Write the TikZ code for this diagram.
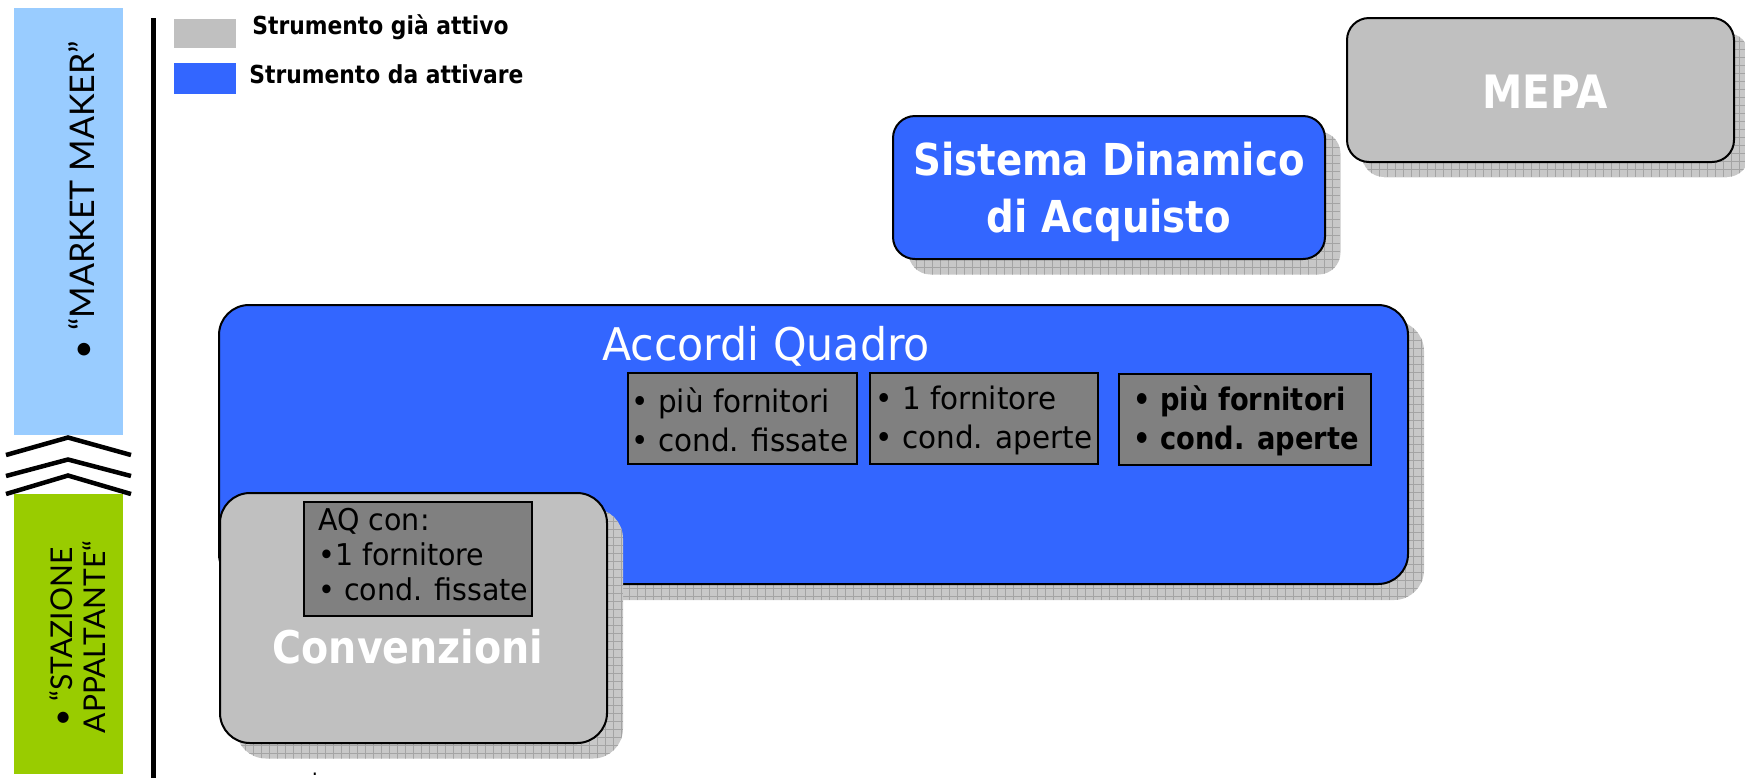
\documentclass[tikz,border=0pt]{standalone}
\usepackage{fontspec}
\setmainfont{DejaVu Sans}[FakeStretch=0.95, BoldFeatures={FakeStretch=0.88}]
\newfontfamily\gill{Lato}
\newdimen\pxu \pxu=0.5pt
\definecolor{lblue}{HTML}{99CCFF}
\definecolor{lgreen}{HTML}{99CC00}
\definecolor{boxblue}{HTML}{3366FF}
\definecolor{boxgray}{HTML}{C0C0C0}
\definecolor{darkgray}{HTML}{808080}
\definecolor{shadowgray}{HTML}{C8C8C8}
\definecolor{gridgray}{HTML}{A4A4A4}
\tikzset{
  shadowbox/.style={draw=none, fill=shadowgray, inner sep=0pt,
    path picture={\draw[gridgray, line width=0.35pt, step=4pt]
      (path picture bounding box.south west) grid (path picture bounding box.north east);}},
  mainbox/.style={draw=black, line width=1pt, inner sep=0pt},
  subbox/.style={draw=black, line width=0.75pt, fill=darkgray, inner sep=0pt},
  subtext/.style={anchor=west, align=left, inner sep=0pt, font=\fontsize{15.5}{19.5}\selectfont},
  legbox/.style={draw=none, inner sep=0pt, minimum width=62\pxu},
  legtext/.style={anchor=west, inner sep=0pt, font=\bfseries\fontsize{12.4}{14}\selectfont},
  chevron/.style={line width=2.25pt, miter limit=10},
}
\begin{document}
\begin{tikzpicture}[x=0.5pt, y=-0.5pt]
\useasboundingbox (0,0) rectangle (1745,778);
\clip (0,0) rectangle (1745,778);
\fill[white] (0,0) rectangle (1745,778);

% left column
\node[fill=lblue, inner sep=0pt, minimum width=109\pxu, minimum height=427\pxu] (mm) at (68.5,221.5) {};
\node[fill=lgreen, inner sep=0pt, minimum width=109\pxu, minimum height=280\pxu] (sa) at (68.5,634) {};
\node[rotate=90, inner sep=0pt, font=\gill\fontsize{17}{20}\selectfont] (mmt) at (82,200) {• “MARKET MAKER”};
\node[rotate=90, inner sep=0pt, align=center, font=\gill\fontsize{15}{16.5}\selectfont] (sat) at (78,637) {• “STAZIONE\\APPALTANTE“};
\draw[chevron] (6,455) -- (68,437.5) -- (131,455);
\draw[chevron] (6,476) -- (68,459.5) -- (131,476);
\draw[chevron] (6,494) -- (68,475.5) -- (131,494);

% vertical separator
\draw[line width=2.5pt] (153,18) -- (153,778);

% legend
\node[legbox, fill=boxgray, minimum height=29\pxu] (leg1) at (205,33.5) {};
\node[legtext] (leg1t) at (252,27) {Strumento già attivo};
\node[legbox, fill=boxblue, minimum height=31\pxu] (leg2) at (205,78.5) {};
\node[legtext] (leg2t) at (249,74) {Strumento da attivare};

% MEPA
\node[shadowbox, rounded corners=22\pxu, minimum width=387\pxu, minimum height=144\pxu] (mepash) at (1555.5,105) {};
\node[mainbox, fill=boxgray, rounded corners=22\pxu, minimum width=387\pxu, minimum height=144\pxu] (mepa) at (1540.5,90) {};
\node[text=white, font=\bfseries\fontsize{23}{28}\selectfont] (mepat) at (1545,92) {MEPA};

% Sistema Dinamico di Acquisto
\node[shadowbox, rounded corners=22\pxu, minimum width=432\pxu, minimum height=143\pxu] (sdash) at (1124.5,203) {};
\node[mainbox, fill=boxblue, rounded corners=22\pxu, minimum width=432\pxu, minimum height=143\pxu] (sda) at (1109,187.5) {};
\node[text=white, align=center, font=\bfseries\fontsize{22}{28.5}\selectfont] (sdat) at (1109,192) {Sistema Dinamico\\di Acquisto};

% Accordi Quadro
\node[shadowbox, rounded corners=30\pxu, minimum width=1189\pxu, minimum height=279\pxu] (aqsh) at (829.5,460.5) {};
\node[mainbox, fill=boxblue, rounded corners=30\pxu, minimum width=1189\pxu, minimum height=279\pxu] (aq) at (813.5,444.5) {};
\node[text=white, anchor=base, inner sep=0pt, font=\fontsize{22.5}{26}\selectfont] (aqt) at (766,360) {Accordi Quadro};

\node[subbox, minimum width=229\pxu, minimum height=91\pxu] (s1) at (742.5,418.5) {};
\node[subtext] (s1t) at (631,420) {• più fornitori\\• cond. fissate};
\node[subbox, minimum width=228\pxu, minimum height=91\pxu] (s2) at (984,418.5) {};
\node[subtext] (s2t) at (875,420) {• 1 fornitore\\• cond. aperte};
\node[subbox, minimum width=252\pxu, minimum height=91\pxu] (s3) at (1245,419.5) {};
\node[subtext, font=\bfseries\fontsize{15.5}{19.5}\selectfont] (s3t) at (1133,421) {• più fornitori\\• cond. aperte};

% Convenzioni
\node[shadowbox, rounded corners=30\pxu, minimum width=387\pxu, minimum height=250\pxu] (cvsh) at (429.5,633.5) {};
\node[mainbox, fill=boxgray, rounded corners=30\pxu, minimum width=387\pxu, minimum height=250\pxu] (cv) at (413.5,618) {};
\node[subbox, minimum width=228\pxu, minimum height=114\pxu] (cin) at (418,559) {};
\node[subtext, font=\fontsize{15}{17.5}\selectfont] (cint) at (318,555) {AQ con:\\•1 fornitore\\• cond. fissate};
\node[text=white, font=\bfseries\fontsize{22.5}{27}\selectfont] (cvt) at (408,647) {Convenzioni};

\node[anchor=base, inner sep=0pt, font=\fontsize{10}{12}\selectfont] (dot) at (315,775) {.};
\end{tikzpicture}
\end{document}
